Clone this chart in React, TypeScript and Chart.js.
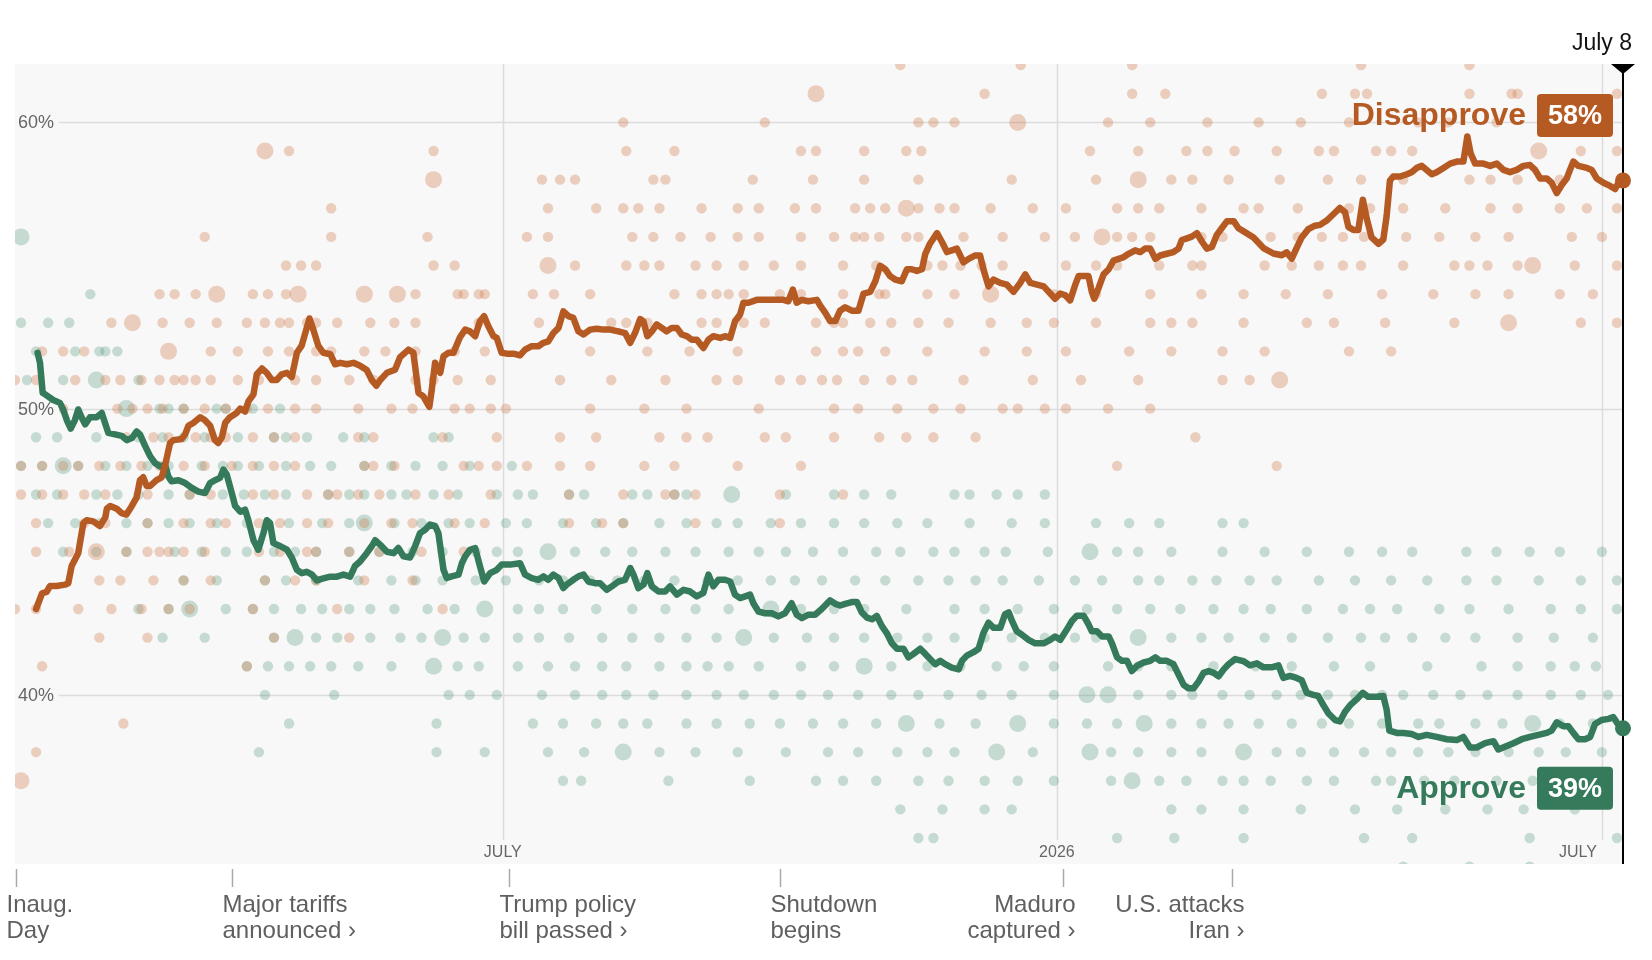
import { useEffect, useRef } from "react";
import { Chart, registerables } from "chart.js";

Chart.register(...registerables);

// x values are days since Inauguration Day (Jan. 20, 2025); July 8, 2026 = day 534
const startDay = 0;
const endDay = 534;

const xTickDays = [162, 346, 527];
const xTickLabels = ["JULY", "2026", "JULY"];
const yTicks = [40, 50, 60];

const eventDays = [0, 72, 164, 254, 348, 404];
const eventLabels = [
  ["Inaug.", "Day"],
  ["Major tariffs", "announced ›"],
  ["Trump policy", "bill passed ›"],
  ["Shutdown", "begins"],
  ["Maduro", "captured ›"],
  ["U.S. attacks", "Iran ›"],
];

// polling average
const disapproveDays = [
  7, 9, 10.5, 11.6, 13.8, 16.6, 17.7, 18.8, 21, 22.7, 23.8, 26, 28.2, 30, 30.5, 31.6, 33.8, 35.4, 37, 38.8,
  40.4, 41.5, 42.6, 43.7, 44.9, 47, 48.7, 49.8, 51.5, 52.6, 55.4, 56.5, 57.6, 59.2, 61.5, 63, 64.8, 66.4, 67.5, 68.7,
  69.8, 71.4, 73.6, 74.8, 76.4, 77.5, 79.2, 80.3, 82, 83.6, 85.3, 86.9, 88.6, 90.3, 91.9, 93.6, 95.2, 96.7, 97.8, 99.1,
  100.7, 102.4, 104.7, 106.3, 108, 110.2, 112.4, 114.6, 116.8, 118.5, 120, 121.3, 123.5, 126.2, 127.9, 130.7, 132.3, 134, 135.6, 137.6,
  138.4, 139.5, 141.2, 142.3, 143.9, 145.6, 147.8, 149.5, 151.1, 152.8, 154.4, 155.8, 157.2, 158.9, 160, 161.6, 163.3, 165.5, 167.7, 169.4,
  171.6, 173.8, 175.5, 177.1, 178.8, 180.5, 182.1, 183.8, 185.4, 187.1, 188.8, 191, 193.2, 195.4, 197.6, 200.4, 202.6, 204.3, 205.9, 207.6,
  208.7, 210, 211.5, 213.1, 214.8, 216.4, 218.1, 219.8, 221.4, 223.1, 224.7, 226.4, 228.6, 230.3, 231.9, 234.2, 235.8, 237.5, 239.1, 240.8,
  241.9, 243.6, 246.3, 249.6, 253, 255.2, 256.8, 258.3, 259.6, 261.3, 263.5, 266.3, 267.4, 269, 270.7, 272.4, 274, 275.7, 277.9, 280.1,
  281.8, 284, 285.7, 287.3, 289, 290.6, 292.3, 294.5, 296.2, 297.8, 299.5, 301.2, 302.3, 303.9, 306.2, 307.8, 309.5, 311.1, 312.8, 315,
  316.7, 318.9, 320.5, 321.6, 323.3, 325, 327.2, 329.4, 331.6, 333.8, 335.5, 337.2, 339.4, 341.6, 343.8, 345.4, 347.1, 348.8, 350.4, 352.1,
  353.2, 354.9, 356.5, 357.6, 358.4, 359.8, 361.5, 363.2, 364.8, 366.5, 368.1, 369.8, 372, 373.7, 375.3, 377, 378.7, 380.3, 382.5, 384.7,
  386.4, 387.5, 389.2, 390.8, 392.5, 394.2, 395.8, 397.5, 399.1, 400.8, 402.5, 404.7, 406.3, 407.9, 411.3, 414.6, 417.9, 420.7, 422.3, 424,
  425.6, 427.3, 429.5, 431.7, 433.4, 435.6, 437.8, 440, 441.7, 442.8, 444.5, 446.1, 447.6, 448.9, 450.5, 452.8, 454.4, 455.5, 456.6, 457.7,
  460, 462.2, 463.8, 465.5, 467.2, 468.8, 470.5, 472.1, 474.4, 476.6, 478.8, 481, 482.3, 483.4, 484.9, 487.6, 489.9, 492.1, 494.3, 496.5,
  498.7, 500.9, 503.1, 504.8, 506.5, 508.7, 510.3, 512, 513.7, 515.3, 516.4, 517.5, 519.2, 522, 523.6, 525.3, 527.5, 529.7, 531.4, 532.5,
  534,
];
const disapproveValues = [
  43.0, 43.55, 43.6, 43.8, 43.8, 43.85, 43.9, 44.5, 44.95, 46.0, 46.1, 46.06, 45.9, 46.2, 46.5, 46.6, 46.5, 46.35, 46.3, 46.6,
  46.9, 47.5, 47.6, 47.3, 47.3, 47.5, 47.6, 48.0, 48.8, 48.9, 48.94, 49.1, 49.4, 49.5, 49.7, 49.6, 49.4, 48.9, 48.8, 49.0,
  49.5, 49.7, 49.85, 50.0, 49.9, 50.25, 50.5, 51.2, 51.4, 51.25, 51.0, 51.0, 51.2, 51.25, 51.1, 51.95, 52.2, 52.75, 53.15, 52.75,
  52.2, 51.95, 51.9, 51.55, 51.6, 51.55, 51.6, 51.5, 51.35, 51.0, 50.8, 51.0, 51.25, 51.36, 51.8, 52.06, 51.95, 50.55, 50.43, 50.06,
  50.66, 51.6, 51.25, 51.83, 51.95, 51.95, 52.5, 52.76, 52.7, 52.53, 53.05, 53.23, 52.88, 52.53, 52.47, 51.95, 51.92, 51.92, 51.86, 52.06,
  52.18, 52.18, 52.3, 52.35, 52.64, 52.82, 53.4, 53.23, 53.17, 52.7, 52.59, 52.76, 52.79, 52.76, 52.76, 52.7, 52.64, 52.3, 52.64, 53.13,
  53.05, 52.53, 52.7, 52.94, 52.82, 52.7, 52.82, 52.82, 52.59, 52.53, 52.41, 52.41, 52.12, 52.41, 52.53, 52.47, 52.53, 52.47, 53.05, 53.29,
  53.7, 53.7, 53.8, 53.8, 53.8, 53.8, 53.75, 54.16, 53.7, 53.8, 53.75, 53.8, 53.6, 53.36, 53.06, 53.06, 53.42, 53.54, 53.42, 53.42,
  54.02, 54.08, 54.45, 54.99, 54.87, 54.63, 54.51, 54.45, 54.87, 54.87, 54.81, 54.87, 55.41, 55.77, 56.13, 55.83, 55.47, 55.53, 55.59, 55.11,
  55.23, 55.35, 55.35, 54.87, 54.27, 54.51, 54.39, 54.33, 54.08, 54.39, 54.69, 54.39, 54.33, 54.27, 54.02, 53.84, 54.02, 53.96, 53.78, 54.33,
  54.63, 54.63, 54.63, 54.08, 53.84, 54.2, 54.69, 54.87, 55.17, 55.23, 55.29, 55.41, 55.53, 55.47, 55.59, 55.59, 55.23, 55.35, 55.41, 55.47,
  55.59, 55.89, 55.95, 56.01, 56.13, 55.83, 55.59, 55.65, 56.07, 56.31, 56.55, 56.55, 56.3, 56.2, 55.98, 55.61, 55.42, 55.36, 55.46, 55.24,
  55.61, 55.98, 56.27, 56.39, 56.42, 56.57, 56.79, 57.01, 56.86, 56.35, 56.24, 56.24, 57.3, 56.64, 55.98, 55.76, 55.91, 56.72, 57.97, 58.11,
  58.11, 58.19, 58.26, 58.41, 58.48, 58.34, 58.19, 58.26, 58.41, 58.56, 58.63, 58.63, 59.51, 58.92, 58.56, 58.56, 58.48, 58.56, 58.34, 58.26,
  58.34, 58.48, 58.51, 58.34, 58.04, 58.04, 57.89, 57.53, 57.82, 58.04, 58.34, 58.63, 58.48, 58.41, 58.34, 58.04, 57.89, 57.78, 57.67, 57.89,
  57.97,
];

const approveDays = [
  7.5, 8.3, 9.2, 10, 12.7, 14.9, 16, 17.2, 18.5, 19.9, 21, 22.1, 23.3, 24.9, 27.1, 28.8, 29.9, 31, 33.2, 35.4,
  37.1, 38.8, 40.4, 41.5, 43.2, 44.9, 46.5, 48.2, 49.8, 50.9, 52, 54.3, 56.5, 58.7, 60.9, 63.1, 64.8, 66.4, 68.1, 69.2,
  70.3, 72, 73.1, 74.8, 76.4, 77.5, 79.2, 80.8, 82.5, 83.6, 84.7, 85.8, 88, 90.3, 91.9, 93.6, 95.2, 96.9, 98.6, 100.2,
  102.4, 104.7, 106.9, 109.1, 111.3, 112.9, 114.6, 116.8, 118.5, 119.6, 121.3, 123.5, 125.7, 127.3, 129, 131.2, 132.9, 134.5, 136.2, 137.8,
  139.5, 140.6, 142.3, 143.4, 145, 147.3, 148.4, 149.5, 151.1, 152.8, 154.4, 155.8, 157.8, 160, 161.6, 164.4, 167.7, 169.4, 171.6, 173.8,
  175.5, 177.1, 178.8, 180.5, 182.1, 183.2, 185.4, 187.1, 188.8, 190.4, 192.6, 194.3, 196.5, 198.2, 200.4, 202.6, 204.3, 205.4, 207, 208.7,
  210, 211.5, 213.7, 215.9, 217.5, 219.8, 222, 224.2, 226.4, 228.6, 230.3, 231.9, 233.6, 235.8, 237.5, 239.1, 240.8, 242.5, 244.1, 245.2,
  246.9, 249.1, 251.3, 253.5, 255.7, 257.9, 259.6, 261.3, 263.5, 265.7, 267.9, 270.7, 272.4, 274, 275.7, 277.9, 279.6, 281.2, 282.9, 284.6,
  286.2, 287.9, 289.5, 291.2, 292.9, 295.1, 296.7, 298.4, 300.6, 302.3, 303.9, 305.6, 307.3, 308.9, 311.1, 313.4, 314.5, 316.1, 318.3, 320,
  321.6, 323.3, 325, 327.2, 328.8, 330, 331.1, 332.7, 334.4, 336.6, 338.8, 341.6, 343.8, 345.4, 347.1, 349.3, 351, 352.6, 354.9, 356.5,
  357.6, 359.3, 361, 363.2, 364.3, 366, 367.6, 369.3, 370.9, 372.6, 374.8, 377, 378.7, 380.3, 382.5, 384.7, 386.4, 388.1, 389.7, 391.4,
  393.1, 394.7, 396.4, 398.1, 399.7, 401.4, 403, 405.2, 407.9, 410.1, 412.4, 414.6, 417.3, 419.6, 421.2, 423.4, 425.6, 427.3, 429, 431.2,
  432.8, 434.5, 436.2, 438.4, 440, 441.7, 443.4, 445.6, 447.6, 449.4, 452.2, 454.4, 455.5, 456.4, 458.9, 461.1, 463.8, 466.1, 468.8, 472.1,
  475.5, 478.8, 481, 483.2, 485.4, 488.2, 491, 492.6, 494.8, 497.6, 500.4, 503.1, 505.9, 508.7, 510.3, 512, 514.2, 515.9, 517.5, 519.2,
  521.4, 523.1, 524.7, 526.9, 529.2, 530.8, 531.9, 533, 534,
];
const approveValues = [
  51.95, 51.6, 50.55, 50.5, 50.3, 50.2, 49.97, 49.6, 49.3, 49.6, 49.97, 49.7, 49.45, 49.7, 49.7, 49.85, 49.5, 49.15, 49.1, 49.05,
  48.9, 48.97, 49.2, 49.1, 48.7, 48.33, 48.1, 47.98, 48.04, 47.63, 47.46, 47.5, 47.4, 47.23, 47.1, 47.05, 47.4, 47.5, 47.58, 47.87,
  47.7, 47.05, 46.6, 46.4, 46.47, 46.1, 45.4, 45.07, 45.65, 46.1, 46.0, 45.3, 45.2, 45.07, 44.8, 44.37, 44.25, 44.3, 44.2, 44.0,
  44.07, 44.13, 44.13, 44.2, 44.13, 44.5, 44.66, 44.95, 45.2, 45.4, 45.24, 45.0, 44.95, 45.13, 44.84, 44.8, 45.2, 45.65, 45.77, 45.95,
  45.9, 45.65, 44.37, 44.08, 44.14, 44.2, 44.6, 44.84, 45.07, 45.13, 44.5, 43.96, 44.25, 44.37, 44.55, 44.55, 44.6, 44.2, 44.08, 44.02,
  44.14, 44.02, 44.2, 44.08, 43.73, 43.85, 44.02, 44.14, 44.2, 43.96, 43.9, 43.9, 43.67, 43.79, 43.96, 44.02, 44.43, 44.2, 43.73, 43.85,
  44.25, 43.79, 43.61, 43.61, 43.79, 43.5, 43.67, 43.61, 43.44, 43.56, 44.2, 43.79, 44.02, 44.02, 43.96, 43.5, 43.38, 43.44, 43.5, 43.2,
  42.91, 42.85, 42.85, 42.74, 42.85, 43.2, 42.8, 42.68, 42.8, 42.8, 43.0, 43.3, 43.18, 43.12, 43.18, 43.24, 43.24, 42.88, 42.7, 42.64,
  42.76, 42.4, 42.16, 41.8, 41.61, 41.61, 41.31, 41.43, 41.61, 41.43, 41.25, 41.07, 41.19, 41.07, 40.95, 40.89, 41.19, 41.37, 41.49, 41.61,
  42.16, 42.52, 42.34, 42.34, 42.82, 42.88, 42.58, 42.22, 42.1, 41.92, 41.8, 41.8, 41.92, 42.04, 41.92, 42.28, 42.58, 42.76, 42.76, 42.46,
  42.22, 42.22, 42.04, 42.04, 41.8, 41.31, 41.19, 41.19, 40.83, 41.01, 41.13, 41.19, 41.31, 41.19, 41.19, 41.07, 40.71, 40.35, 40.23, 40.23,
  40.47, 40.77, 40.83, 40.77, 40.65, 40.89, 41.07, 41.25, 41.18, 41.03, 41.1, 40.96, 40.96, 41.03, 40.59, 40.66, 40.59, 40.51, 40.07, 40.0,
  39.96, 39.64, 39.35, 39.12, 39.07, 39.41, 39.64, 39.85, 40.07, 39.93, 39.93, 39.96, 39.49, 38.75, 38.67, 38.67, 38.63, 38.53, 38.6, 38.53,
  38.45, 38.42, 38.53, 38.16, 38.16, 38.31, 38.38, 38.09, 38.19, 38.31, 38.45, 38.53, 38.6, 38.67, 38.75, 39.04, 38.9, 38.9, 38.67, 38.45,
  38.45, 38.53, 38.98, 39.12, 39.16, 39.22, 39.04, 38.9, 38.83,
];

// individual polls: [percentage, days of polls]
const disapprovePollRows: [number, number[]][] = [
  [62, [294, 334, 371, 447, 483]],
  [61, [322, 371, 382, 434, 445, 449, 483, 497, 499, 532]],
  [60, [202, 249, 300, 305, 312, 363, 377, 396, 413, 427, 443, 466, 476, 492]],
  [59, [91, 139, 203, 219, 261, 266, 282, 296, 301, 357, 373, 389, 396, 405, 419, 433, 438, 452, 457, 464, 520, 532]],
  [58, [175, 181, 186, 212, 216, 245, 265, 282, 300, 331, 359, 384, 391, 403, 420, 436, 447, 461, 483, 490, 499, 513]],
  [57, [105, 177, 193, 202, 207, 214, 228, 240, 247, 259, 266, 279, 284, 289, 300, 307, 312, 324, 338, 349, 366, 373, 380, 394, 408, 413, 426, 443, 450, 461, 475, 490, 499, 513, 522, 532]],
  [56, [63, 105, 137, 170, 177, 205, 212, 221, 231, 240, 247, 261, 272, 279, 282, 287, 296, 300, 315, 328, 342, 352, 366, 371, 377, 394, 401, 417, 426, 434, 441, 448, 462, 473, 485, 496, 517, 527]],
  [55, [90, 95, 100, 139, 146, 186, 203, 209, 214, 226, 233, 242, 252, 261, 275, 286, 303, 308, 314, 321, 328, 349, 359, 366, 380, 391, 394, 415, 424, 433, 441, 447, 461, 478, 483, 489, 499, 518, 532]],
  [54, [48, 53, 60, 79, 84, 90, 133, 147, 149, 154, 156, 172, 179, 191, 219, 228, 233, 237, 242, 254, 261, 275, 287, 289, 303, 312, 345, 359, 377, 394, 408, 422, 436, 454, 471, 485, 496, 513, 524]],
  [53, [32, 49, 58, 67, 77, 83, 88, 91, 97, 100, 107, 118, 126, 133, 154, 174, 198, 203, 210, 228, 233, 242, 249, 266, 272, 275, 284, 291, 300, 310, 324, 336, 345, 359, 377, 384, 391, 408, 429, 438, 455, 478, 520, 532]],
  [52, [9, 16, 23, 65, 74, 84, 91, 100, 105, 116, 123, 133, 146, 156, 191, 210, 224, 240, 266, 275, 280, 289, 303, 322, 336, 349, 370, 384, 401, 415, 443, 457]],
  [51, [0, 7, 20, 30, 35, 42, 48, 53, 56, 60, 65, 74, 81, 93, 100, 111, 119, 133, 139, 147, 158, 181, 198, 216, 233, 240, 254, 261, 268, 273, 282, 291, 298, 315, 338, 354, 373, 401, 410]],
  [50, [2, 7, 16, 34, 39, 44, 49, 56, 63, 70, 77, 84, 93, 100, 114, 125, 132, 146, 151, 158, 163, 191, 209, 223, 247, 272, 280, 293, 305, 314, 328, 333, 342, 349, 363, 377]],
  [49, [37, 46, 51, 60, 65, 70, 79, 86, 93, 114, 119, 142, 160, 181, 193, 214, 223, 230, 249, 256, 272, 287, 296, 305, 319, 392]],
  [48, [2, 9, 16, 21, 28, 35, 42, 48, 56, 63, 72, 79, 86, 93, 116, 119, 126, 149, 154, 160, 170, 181, 191, 209, 219, 240, 261, 366, 419]],
  [47, [2, 9, 16, 23, 30, 44, 58, 65, 79, 86, 97, 104, 107, 114, 121, 133, 144, 158, 184, 202, 216, 219, 226, 254, 275]],
  [46, [7, 23, 30, 44, 56, 65, 70, 81, 88, 97, 104, 116, 125, 132, 146, 156, 184, 195, 202, 226, 254]],
  [45, [7, 18, 37, 44, 48, 51, 56, 63, 81, 88, 97, 100, 111, 121, 135, 149]],
  [44, [28, 35, 46, 56, 65, 83, 93, 100, 116, 132]],
  [43, [0, 7, 21, 32, 42, 51, 58, 79, 107, 142]],
  [42, [28, 44, 86, 111]],
  [41, [9, 77]],
  [39, [36]],
  [38, [7]],
];
const disapproveLargePolls: [number, number][] = [
  [83, 59], [139, 58], [266, 61], [333, 60], [506, 59], [373, 58], [296, 57], [361, 56], [177, 55], [504, 55],
  [67, 54], [94, 54], [116, 54], [127, 54], [324, 54], [39, 53], [496, 53], [51, 52], [420, 51], [27, 45], [2, 37],
];

const approvePollRows: [number, number[]][] = [
  [54, [25]],
  [53, [2, 11, 18]],
  [52, [7, 20, 28, 30, 34]],
  [51, [4, 16, 41]],
  [50, [13, 48, 51, 56, 67, 70, 79, 88]],
  [49, [7, 14, 27, 41, 49, 56, 63, 74, 86, 90, 97, 109, 116, 139, 144]],
  [48, [2, 9, 21, 30, 37, 44, 51, 62, 69, 74, 81, 90, 98, 105, 116, 125, 133, 142, 151, 165]],
  [47, [7, 14, 27, 34, 41, 51, 58, 69, 76, 83, 90, 104, 111, 116, 125, 130, 139, 147, 160, 167, 172, 184, 189, 205, 210, 219, 223, 256, 272, 282, 291, 312, 317, 326, 333, 342]],
  [46, [11, 20, 28, 37, 44, 51, 58, 67, 77, 84, 91, 102, 111, 126, 135, 144, 151, 163, 170, 182, 193, 202, 214, 223, 233, 240, 251, 261, 272, 282, 293, 303, 317, 331, 342, 359, 370, 380, 401, 408]],
  [45, [16, 27, 37, 53, 62, 70, 77, 86, 93, 100, 111, 121, 132, 142, 153, 160, 167, 186, 196, 205, 216, 226, 237, 247, 256, 265, 275, 286, 294, 305, 312, 322, 329, 343, 366, 373, 384, 401, 415, 429, 443, 454, 464, 482, 492, 503, 513, 527]],
  [44, [56, 67, 83, 90, 100, 114, 125, 133, 142, 153, 163, 174, 182, 191, 200, 209, 219, 230, 240, 251, 259, 268, 279, 289, 300, 310, 319, 328, 340, 352, 361, 373, 380, 391, 399, 410, 419, 433, 445, 457, 469, 482, 492, 506, 520, 532]],
  [43, [41, 51, 70, 79, 86, 95, 102, 111, 118, 126, 137, 146, 167, 174, 182, 193, 205, 216, 226, 237, 261, 272, 282, 296, 312, 322, 333, 345, 356, 366, 377, 387, 398, 408, 417, 429, 441, 450, 459, 473, 483, 496, 510, 520, 532]],
  [42, [49, 63, 86, 100, 107, 118, 128, 135, 149, 156, 167, 174, 184, 195, 205, 214, 223, 233, 252, 263, 272, 282, 293, 303, 312, 322, 331, 342, 352, 359, 384, 394, 403, 415, 424, 436, 447, 455, 464, 475, 485, 499, 511, 524]],
  [41, [77, 84, 91, 98, 105, 114, 125, 147, 154, 167, 177, 186, 195, 203, 214, 223, 230, 237, 247, 261, 272, 291, 303, 314, 326, 335, 345, 363, 373, 384, 398, 412, 424, 438, 450, 469, 487, 499, 510, 518, 525]],
  [40, [83, 106, 144, 151, 160, 175, 186, 195, 203, 212, 223, 233, 242, 252, 261, 270, 280, 291, 300, 310, 321, 331, 345, 373, 384, 391, 401, 410, 419, 427, 436, 445, 454, 461, 471, 480, 489, 499, 510, 520, 529]],
  [39, [91, 140, 172, 182, 193, 202, 210, 223, 233, 244, 254, 265, 275, 286, 307, 319, 345, 356, 366, 384, 394, 403, 413, 424, 434, 443, 454, 466, 473, 485, 494, 513, 524]],
  [38, [81, 140, 156, 177, 189, 214, 226, 240, 256, 270, 280, 293, 303, 312, 338, 364, 373, 384, 394, 419, 427, 438, 448, 457, 466, 476, 485, 496, 506, 515, 527]],
  [37, [182, 188, 217, 244, 266, 275, 286, 300, 310, 322, 333, 345, 364, 380, 389, 401, 408, 417, 429, 438, 452, 457, 468, 478, 492, 504, 520]],
  [36, [294, 308, 322, 331, 384, 394, 408, 427, 445, 459, 475, 489, 501, 518]],
  [35, [300, 305, 366, 385, 408, 448, 464, 503, 532]],
  [34, [461, 483, 503]],
];
const approveLargePolls: [number, number][] = [
  [2, 56], [27, 51], [37, 50], [16, 48], [116, 46], [177, 45], [357, 45], [58, 43], [156, 43], [251, 43],
  [93, 42], [142, 42], [242, 42], [373, 42], [139, 41], [282, 41], [356, 40], [363, 40], [296, 39], [333, 39],
  [375, 39], [504, 39], [202, 38], [326, 38], [357, 38], [408, 38], [371, 37], [238, 47],
];

const disapproveColor = "#b65a24";
const approveColor = "#357a5b";
const fontFamily = "'Liberation Sans', Arial, sans-serif";

type Poll = { x: number; y: number; big: boolean };

function pollPoints(rows: [number, number[]][], large: [number, number][]): Poll[] {
  const pts: Poll[] = [];
  rows.forEach(([pct, days]) => days.forEach((d) => pts.push({ x: d, y: pct, big: false })));
  large.forEach(([d, pct]) => pts.push({ x: d, y: pct, big: true }));
  return pts;
}

const chartDecor = {
  id: "chartDecor",
  beforeDatasetsDraw(chart: any) {
    const { ctx, chartArea: a, scales } = chart;
    const x = scales.x;
    const y = scales.y;
    ctx.save();
    ctx.fillStyle = "#f8f8f8";
    ctx.fillRect(a.left, a.top, a.right - a.left, a.bottom - a.top);

    ctx.strokeStyle = "#dcdcdc";
    ctx.lineWidth = 1.5;
    yTicks.forEach((v) => {
      const py = Math.round(y.getPixelForValue(v)) + 0.5;
      ctx.beginPath();
      ctx.moveTo(a.left, py);
      ctx.lineTo(a.right, py);
      ctx.stroke();
    });
    xTickDays.forEach((d) => {
      const px = Math.round(x.getPixelForValue(d)) + 0.5;
      ctx.beginPath();
      ctx.moveTo(px, a.top);
      ctx.lineTo(px, a.bottom - 24);
      ctx.stroke();
    });

    ctx.font = `16px ${fontFamily}`;
    ctx.fillStyle = "#666";
    ctx.textBaseline = "middle";
    xTickDays.forEach((d, i) => {
      const px = x.getPixelForValue(d);
      const w = ctx.measureText(xTickLabels[i]).width;
      if (px + w / 2 > a.right - 8) {
        ctx.textAlign = "right";
        ctx.fillText(xTickLabels[i], px - 5, a.bottom - 11);
      } else {
        ctx.textAlign = "center";
        ctx.fillText(xTickLabels[i], px, a.bottom - 11);
      }
    });
    ctx.restore();
  },
  beforeDatasetDraw(chart: any, args: any) {
    // after the polls, before the average lines
    if (args.index !== 1) return;
    const { ctx, chartArea: a, scales } = chart;
    const x = scales.x;
    const y = scales.y;
    ctx.save();
    ctx.font = `18px ${fontFamily}`;
    ctx.textAlign = "left";
    ctx.textBaseline = "middle";
    yTicks.forEach((v) => {
      const py = y.getPixelForValue(v);
      const label = `${v}%`;
      const w = ctx.measureText(label).width;
      ctx.fillStyle = "#f8f8f8";
      ctx.fillRect(a.left, py - 10, w + 8, 20);
      ctx.fillStyle = "#666";
      ctx.fillText(label, a.left + 3, py + 1);
    });

    // today marker
    const px = x.getPixelForValue(endDay);
    ctx.strokeStyle = "#000";
    ctx.lineWidth = 2;
    ctx.beginPath();
    ctx.moveTo(px, a.top);
    ctx.lineTo(px, a.bottom);
    ctx.stroke();
    ctx.fillStyle = "#000";
    ctx.beginPath();
    ctx.moveTo(px - 12, a.top);
    ctx.lineTo(px + 12, a.top);
    ctx.lineTo(px, a.top + 10);
    ctx.closePath();
    ctx.fill();
    ctx.font = `23px ${fontFamily}`;
    ctx.textAlign = "right";
    ctx.fillStyle = "#121212";
    ctx.fillText("July 8", px + 9, a.top - 20);
    ctx.restore();
  },
  afterDatasetsDraw(chart: any) {
    const { ctx, chartArea: a, scales } = chart;
    const x = scales.x;
    const y = scales.y;
    ctx.save();

    const endLabels = [
      { name: "Disapprove", value: disapproveValues[disapproveValues.length - 1], color: disapproveColor, dy: -65 },
      { name: "Approve", value: approveValues[approveValues.length - 1], color: approveColor, dy: 60 },
    ];
    endLabels.forEach((l) => {
      const cy = y.getPixelForValue(l.value) + l.dy;
      const bRight = x.getPixelForValue(endDay) - 10;
      const bW = 76;
      const bH = 43;
      ctx.fillStyle = l.color;
      ctx.beginPath();
      ctx.roundRect(bRight - bW, cy - bH / 2, bW, bH, 4);
      ctx.fill();
      ctx.textBaseline = "middle";
      ctx.font = `bold 27px ${fontFamily}`;
      ctx.textAlign = "center";
      ctx.fillStyle = "#fff";
      ctx.fillText(`${Math.round(l.value)}%`, bRight - bW / 2, cy + 1);
      ctx.font = `bold 32px ${fontFamily}`;
      ctx.textAlign = "right";
      ctx.fillStyle = l.color;
      ctx.fillText(l.name, bRight - bW - 11, cy + 1);
    });

    // events under the chart
    ctx.strokeStyle = "#aaa";
    ctx.lineWidth = 1.5;
    ctx.font = `24px ${fontFamily}`;
    ctx.fillStyle = "#5f5f5f";
    ctx.textBaseline = "middle";
    eventDays.forEach((d, i) => {
      const px = Math.round(Math.max(x.getPixelForValue(d), a.left + 1)) + 0.5;
      ctx.beginPath();
      ctx.moveTo(px, a.bottom + 5);
      ctx.lineTo(px, a.bottom + 23);
      ctx.stroke();
      const rightAligned = d >= xTickDays[1];
      ctx.textAlign = rightAligned ? "right" : "left";
      const tx = rightAligned ? px + 12 : px - 10;
      eventLabels[i].forEach((line, j) => {
        ctx.fillText(line, tx, a.bottom + 41 + j * 26.5);
      });
    });
    ctx.restore();
  },
};

export default function App() {
  const canvasRef = useRef<HTMLCanvasElement>(null);
  const chartRef = useRef<Chart | null>(null);

  useEffect(() => {
    const canvas = canvasRef.current;
    if (!canvas) return;
    chartRef.current?.destroy();

    const disapproveLine = disapproveDays.map((d, i) => ({ x: d, y: disapproveValues[i] }));
    const approveLine = approveDays.map((d, i) => ({ x: d, y: approveValues[i] }));
    const lastDis = disapproveLine.length - 1;
    const lastApp = approveLine.length - 1;
    const pollRadius = (c: any) => (c.raw && c.raw.big ? 8.5 : 5.2);

    chartRef.current = new Chart(canvas, {
      type: "scatter",
      data: {
        datasets: [
          {
            data: disapproveLine,
            showLine: true,
            borderColor: disapproveColor,
            backgroundColor: disapproveColor,
            borderWidth: 6.5,
            borderJoinStyle: "round",
            borderCapStyle: "round",
            tension: 0,
            pointRadius: (c: any) => (c.dataIndex === lastDis ? 8 : 0),
            pointBorderWidth: 0,
            clip: false,
          } as any,
          {
            data: approveLine,
            showLine: true,
            borderColor: approveColor,
            backgroundColor: approveColor,
            borderWidth: 6.5,
            borderJoinStyle: "round",
            borderCapStyle: "round",
            tension: 0,
            pointRadius: (c: any) => (c.dataIndex === lastApp ? 8 : 0),
            pointBorderWidth: 0,
            clip: false,
          } as any,
          {
            data: pollPoints(disapprovePollRows, disapproveLargePolls),
            backgroundColor: "rgba(206, 118, 70, 0.33)",
            pointRadius: pollRadius,
            pointBorderWidth: 0,
            clip: 0,
          } as any,
          {
            data: pollPoints(approvePollRows, approveLargePolls),
            backgroundColor: "rgba(60, 140, 106, 0.27)",
            pointRadius: pollRadius,
            pointBorderWidth: 0,
            clip: 0,
          } as any,
        ],
      },
      options: {
        animation: false,
        responsive: true,
        maintainAspectRatio: false,
        events: [],
        layout: { padding: { left: 15, right: 29, top: 64, bottom: 96 } },
        plugins: { legend: { display: false }, tooltip: { enabled: false } },
        scales: {
          x: { type: "linear", min: startDay, max: endDay, display: false },
          y: { type: "linear", min: 34.09, max: 62.04, display: false },
        },
      },
      plugins: [chartDecor],
    });

    return () => {
      chartRef.current?.destroy();
      chartRef.current = null;
    };
  }, []);

  return (
    <div style={{ position: "absolute", left: 0, top: 0, width: 1652, height: 960, background: "#fff" }}>
      <canvas ref={canvasRef} />
    </div>
  );
}
